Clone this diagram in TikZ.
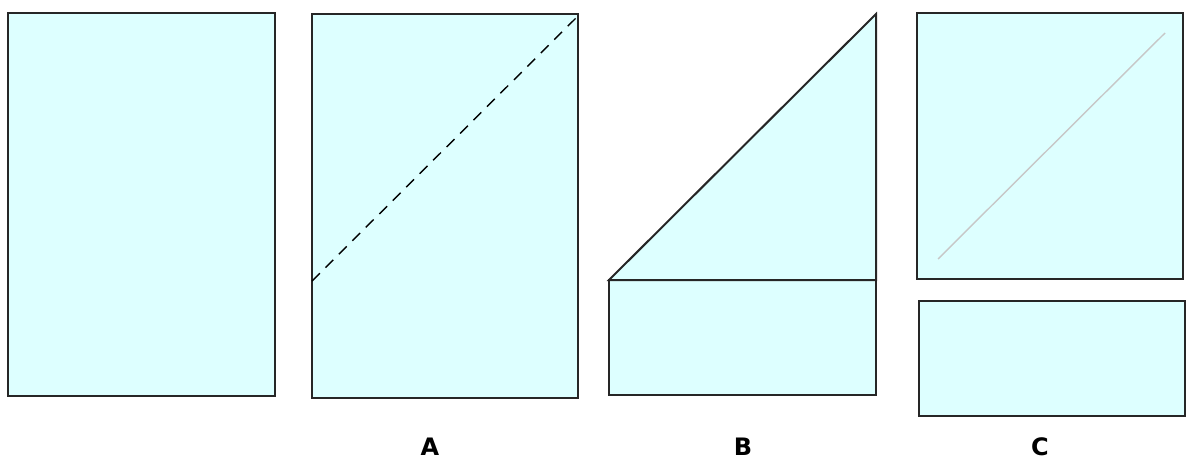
\documentclass[tikz,border=0pt]{standalone}
\usepackage{fontspec}
\setsansfont{DejaVu Sans}
\usepackage{xcolor}
\usetikzlibrary{positioning}
\definecolor{sheetfill}{HTML}{DDFFFF}

\begin{document}
\begin{tikzpicture}[
  x=1pt, y=-1pt,
  sheet/.style={draw=black!85, fill=sheetfill, line width=2pt},
  foldline/.style={draw=black, line width=1.4pt, dash pattern=on 11pt off 8pt},
  crease/.style={draw=black!22, line width=1.4pt},
  tag/.style={font=\fontsize{24}{28}\selectfont\sffamily\bfseries}
]
\useasboundingbox (0,0) rectangle (1188,469);
% plain sheet
\draw[sheet] (8,13) rectangle (275,396);
% A: sheet with fold line
\draw[sheet] (312,14) rectangle (578,398);
\coordinate (foldA) at (312,281);
\coordinate (cornerA) at (578,16);
\draw[foldline] (foldA) -- (cornerA);
% B: folded corner over strip
\draw[sheet] (609,280) rectangle (876,395);
\draw[sheet] (609,280) -- (876,14) -- (876,280) -- cycle;
% C: square and cut-off strip
\draw[sheet] (917,13) rectangle (1183,279);
\coordinate (creaseS) at (938,259);
\coordinate (creaseE) at (1165,33);
\draw[crease] (creaseS) -- (creaseE);
\draw[sheet] (919,301) rectangle (1185,416);
% labels
\node[tag] (labA) at (430,447) {A};
\node[tag] (labB) at (743,447) {B};
\node[tag] (labC) at (1040,447) {C};
\end{tikzpicture}
\end{document}
